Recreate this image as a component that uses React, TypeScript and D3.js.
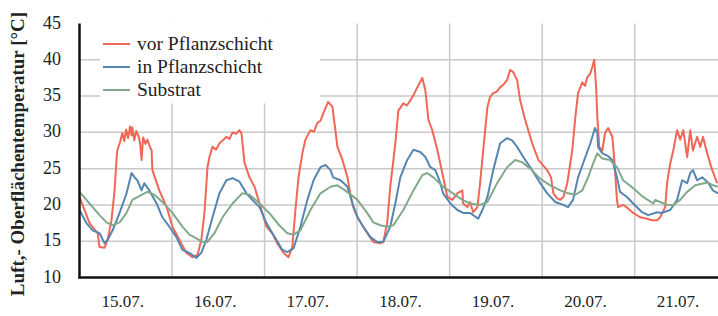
import React from "react";
import * as d3 from "d3";

// hours since 15.07. 00:00
const redHours = [0, 2.6, 4.7, 5.2, 6.5, 7.3, 8.3, 9.1, 9.6, 9.8, 10.5, 11.1, 11.6, 12.1, 12.6, 13.1, 13.5, 13.7, 14.2, 14.7, 15.3, 15.7, 16.1, 16.5, 17.1, 17.6, 18.2, 18.7, 18.9, 20.7, 22.6, 24.1, 25.9, 27.7, 29.3, 30.6, 31.6, 32.4, 33.2, 33.7, 34.5, 35.4, 36.3, 37.2, 38.1, 38.9, 39.7, 40.6, 41.5, 42, 42.8, 44.1, 45.4, 46.7, 48.5, 50, 51.3, 52.9, 54.2, 55.2, 56, 56.8, 57.8, 58.6, 59.9, 60.8, 61.7, 62.5, 63.2, 64.5, 65.6, 66.9, 68.2, 69.5, 70.2, 71, 72.1, 73.6, 74.9, 76.2, 78, 78.8, 79.8, 80.6, 81.9, 82.7, 84, 84.9, 85.8, 86.7, 87.6, 88.9, 89.7, 90.5, 91.5, 92.8, 94.1, 95.4, 96.7, 98, 99.3, 99.5, 100.6, 101.3, 102.1, 103.2, 103.9, 104.7, 105.8, 106.5, 107.3, 108.2, 109.1, 110, 110.9, 111.7, 112.5, 113.5, 114.3, 115.6, 117.4, 119, 121.3, 122.3, 122.9, 123.9, 124.7, 125.5, 126.5, 127.8, 128.6, 129.3, 130.4, 131.1, 131.7, 132.4, 133, 133.5, 134, 134.3, 134.8, 135.6, 136.3, 137.1, 138.2, 138.7, 139.4, 139.7, 141, 142.3, 143.6, 145.4, 147.2, 148.5, 149.8, 150.6, 151.9, 152.4, 153.2, 154, 155, 155.8, 156.6, 157.6, 158.4, 159.1, 160.2, 161, 161.7, 162.8, 164.1, 165.4];
const redValues = [21.1, 17.5, 16.1, 14.2, 14.1, 15.2, 17.9, 22, 26.2, 27.5, 28.6, 29.9, 28.8, 30.4, 29.2, 30.8, 29.6, 30.7, 28.9, 30.2, 29.5, 28.6, 26.2, 29.3, 28.4, 29, 28.1, 27.5, 24.8, 22, 19.7, 17, 15.2, 13.4, 12.8, 13.1, 15.2, 18.9, 25.2, 26.6, 28, 27.6, 28.5, 28.9, 29.4, 29.1, 30, 29.8, 30.3, 29.9, 25.8, 23.8, 22.5, 20.2, 17, 16.1, 14.7, 13.4, 12.8, 14.2, 19.3, 23.8, 27.1, 29, 30.3, 30.1, 31.3, 31.6, 32.6, 34.2, 33.5, 28, 26.2, 23.8, 21.6, 19.7, 18.3, 17, 15.9, 14.9, 14.7, 14.9, 17.5, 22.5, 28.4, 33, 34, 33.7, 34.4, 35.2, 36.2, 37.5, 35.8, 31.7, 30.3, 27.6, 24.4, 21.1, 20.7, 21.6, 22, 20.2, 19.7, 20.4, 19, 19.7, 23, 27.5, 33.5, 34.9, 35.4, 35.6, 36.2, 36.6, 37.2, 38.6, 38.3, 37.2, 34.4, 31.7, 28.5, 26.2, 24.8, 23.8, 21.6, 20.9, 20.7, 21.1, 23, 27.5, 32.1, 35.4, 36.9, 36.4, 37.6, 38, 39, 40, 36.2, 32.1, 28, 27.5, 29.9, 30.6, 29.4, 26.2, 20.7, 19.7, 20, 19.5, 18.9, 18.3, 18.1, 17.9, 17.9, 18.3, 19.7, 23, 25.7, 27.5, 30.3, 29, 30.3, 26.6, 30.3, 27.5, 29.4, 28, 29.4, 27.1, 24.8, 23];

const blueHours = [0, 1.8, 3.4, 5.2, 6.5, 7.3, 8.6, 10.4, 12.2, 13.5, 14.3, 15, 16.1, 16.8, 18.1, 20, 21.5, 23.3, 25.1, 26.7, 28.5, 30.3, 31.6, 32.9, 34.5, 36.3, 38.1, 39.7, 41.5, 43.3, 44.8, 46.7, 48.5, 50, 51.3, 52.6, 53.9, 55.5, 57.3, 59.1, 60.7, 62.5, 63.8, 65.1, 65.8, 67.7, 69.5, 70.8, 72.1, 73.6, 75.4, 77.2, 78.8, 80.6, 81.9, 83.2, 85, 86.6, 88.4, 89.7, 91, 92.3, 93.6, 94.3, 96.2, 98, 99.5, 101.3, 103.4, 104.5, 105.8, 107.3, 109.1, 110.9, 112.2, 113.5, 115.1, 116.9, 119.5, 121.3, 123.4, 125.5, 126.7, 128, 129.3, 131.2, 132.5, 133.7, 134.3, 134.5, 135.6, 136.9, 138.2, 139.4, 140.2, 142, 143.6, 145.9, 147.5, 149.8, 151.1, 153.2, 155, 156.3, 157.6, 158.4, 159.1, 160.2, 161.5, 163, 164.3, 165.6];
const blueValues = [19.3, 17.5, 16.5, 16.1, 14.7, 15.2, 16.5, 18.9, 21.6, 24.4, 23.8, 23.4, 22, 23, 22, 20.2, 18.3, 17, 15.6, 13.8, 13.4, 12.7, 13.4, 15.2, 18.3, 21.6, 23.4, 23.7, 23.2, 21.6, 20.7, 19.7, 17.5, 16.1, 15, 13.8, 13.5, 14, 17, 20.7, 23.4, 25.2, 25.5, 24.8, 23.8, 23.4, 22.5, 20.2, 18.3, 17, 15.6, 14.9, 14.9, 17, 20.2, 23.8, 26.2, 27.6, 27.3, 26.6, 25.2, 24.8, 23, 21.6, 20.2, 19.3, 18.9, 18.9, 18.1, 19.3, 21.1, 24.8, 28.5, 29.2, 28.9, 28, 26.6, 25.2, 23, 21.6, 20.4, 20, 19.7, 20.7, 23.8, 26.6, 28.5, 30.6, 29.9, 28, 27.1, 26.8, 26.2, 23.8, 21.8, 21.1, 20.2, 19, 18.6, 19, 18.9, 19.3, 20.7, 23.4, 23, 24.4, 24.8, 23.4, 23.8, 23.1, 22, 21.6];

const greenHours = [0, 2.6, 5.2, 7, 8.6, 10.4, 12.2, 13.7, 16.1, 17.6, 19.4, 21.5, 24.1, 26.7, 28.5, 30.3, 31.9, 33.2, 35, 37.1, 39.7, 42.2, 44.1, 46.7, 49.2, 51.8, 53.9, 55.5, 57.3, 59.9, 62.5, 65.1, 66.9, 68.9, 72.1, 74.6, 76.2, 78, 79.8, 81.4, 84, 86.6, 88.9, 90.2, 91.8, 94.3, 96.9, 99.3, 101.3, 103.9, 105.8, 108.3, 110.9, 113, 114.8, 116.9, 119.5, 122.1, 124.7, 126.7, 128.6, 130.4, 131.9, 133.2, 134.3, 135.6, 137.6, 139.4, 141, 143.6, 146.2, 148.8, 149.3, 150.6, 152.4, 154, 155.8, 157.6, 159.7, 162.8, 164.3, 165.6];
const greenValues = [21.8, 20.2, 18.6, 17.6, 17.2, 17.6, 18.9, 20.7, 21.4, 21.8, 21.4, 20.4, 18.9, 17, 15.9, 15.4, 14.9, 14.9, 16.1, 18.3, 20.2, 21.6, 21.4, 20.2, 18.9, 17.2, 16.1, 15.9, 16.5, 19.3, 21.6, 22.5, 22.7, 22, 20.7, 18.9, 17.6, 17.2, 17, 17.2, 19.3, 22, 24.1, 24.4, 23.8, 22.5, 21.6, 20.7, 20.2, 20, 20.4, 23, 25.2, 26.2, 25.9, 25, 23.6, 22.7, 22, 21.6, 21.4, 22, 23.8, 25.7, 27.1, 26.4, 26.2, 25.2, 23.4, 22.3, 21.1, 20.2, 20.7, 20.4, 20, 20, 20.7, 21.8, 22.7, 23.1, 22.7, 22.5];

const dayLabels = ["15.07.", "16.07.", "17.07.", "18.07.", "19.07.", "20.07.", "21.07."];
const yTicks = [10, 15, 20, 25, 30, 35, 40, 45];
const seriesNames = ["vor Pflanzschicht", "in Pflanzschicht", "Substrat"];
const seriesColors = ["#EF6757", "#5586B1", "#80AA8B"];

const W = 718;
const H = 316;
const left = 79.5;
const right = 718;
const top = 23.5;
const bottom = 277.5;
const serif = "Liberation Serif";

export default function App() {
  const x = d3.scaleLinear().domain([0, 165.6]).range([left, right]);
  const y = d3.scaleLinear().domain([10, 45]).range([bottom, top]);

  const series = [
    { hours: redHours, values: redValues },
    { hours: blueHours, values: blueValues },
    { hours: greenHours, values: greenValues },
  ];
  const line = d3
    .line<[number, number]>()
    .x((d) => x(d[0]))
    .y((d) => y(d[1]));

  const dayLines = d3.range(1, 8).map((d) => d * 24);

  return (
    <svg
      width={W}
      height={H}
      style={{ position: "absolute", left: 0, top: 0, background: "#fff" }}
    >
      {/* gridlines */}
      {yTicks
        .filter((t) => t > 10 && t < 45)
        .map((t) => (
          <line key={"h" + t} x1={left} x2={right} y1={y(t)} y2={y(t)} stroke="#C9C9C9" strokeWidth={1.5} />
        ))}
      {dayLines
        .filter((h) => x(h) < right)
        .map((h) => (
          <line key={"v" + h} x1={x(h)} x2={x(h)} y1={top} y2={bottom} stroke="#C9C9C9" strokeWidth={1.5} />
        ))}

      {/* series */}
      {series.map((s, i) => (
        <path
          key={i}
          d={line(s.hours.map((h, j) => [h, s.values[j]] as [number, number])) || ""}
          fill="none"
          stroke={seriesColors[i]}
          strokeWidth={2}
          strokeLinejoin="round"
        />
      ))}

      {/* legend */}
      <rect x={100} y={top} width={220} height={80} fill="#fff" />
      {seriesNames.map((n, i) => (
        <g key={n} transform={`translate(103,${44 + i * 23})`}>
          <line x1={0} x2={27} y1={0} y2={0} stroke={seriesColors[i]} strokeWidth={2} />
          <text x={34} y={6} style={{ fontFamily: serif, fontSize: 19.5 }} fill="#222">
            {n}
          </text>
        </g>
      ))}

      {/* axes */}
      <line x1={left} x2={left} y1={top} y2={bottom + 1} stroke="#111" strokeWidth={2.5} />
      <line x1={left - 1} x2={right} y1={bottom} y2={bottom} stroke="#111" strokeWidth={2.5} />

      {yTicks.map((t) => (
        <text key={"yt" + t} x={61} y={y(t) + 5} textAnchor="end" style={{ fontFamily: serif, fontSize: 18 }} fill="#222">
          {t}
        </text>
      ))}
      {dayLabels.map((l, i) => (
        <text key={l} x={x(i * 24 + 12) - 3} y={307} textAnchor="middle" style={{ fontFamily: serif, fontSize: 17 }} fill="#222">
          {l}
        </text>
      ))}

      <text
        transform={`translate(24,154) rotate(-90)`}
        textAnchor="middle"
        style={{ fontFamily: serif, fontSize: 19, fontWeight: "bold" }}
        fill="#222"
      >
        Luft,- Oberflächentemperatur [°C]
      </text>
    </svg>
  );
}
